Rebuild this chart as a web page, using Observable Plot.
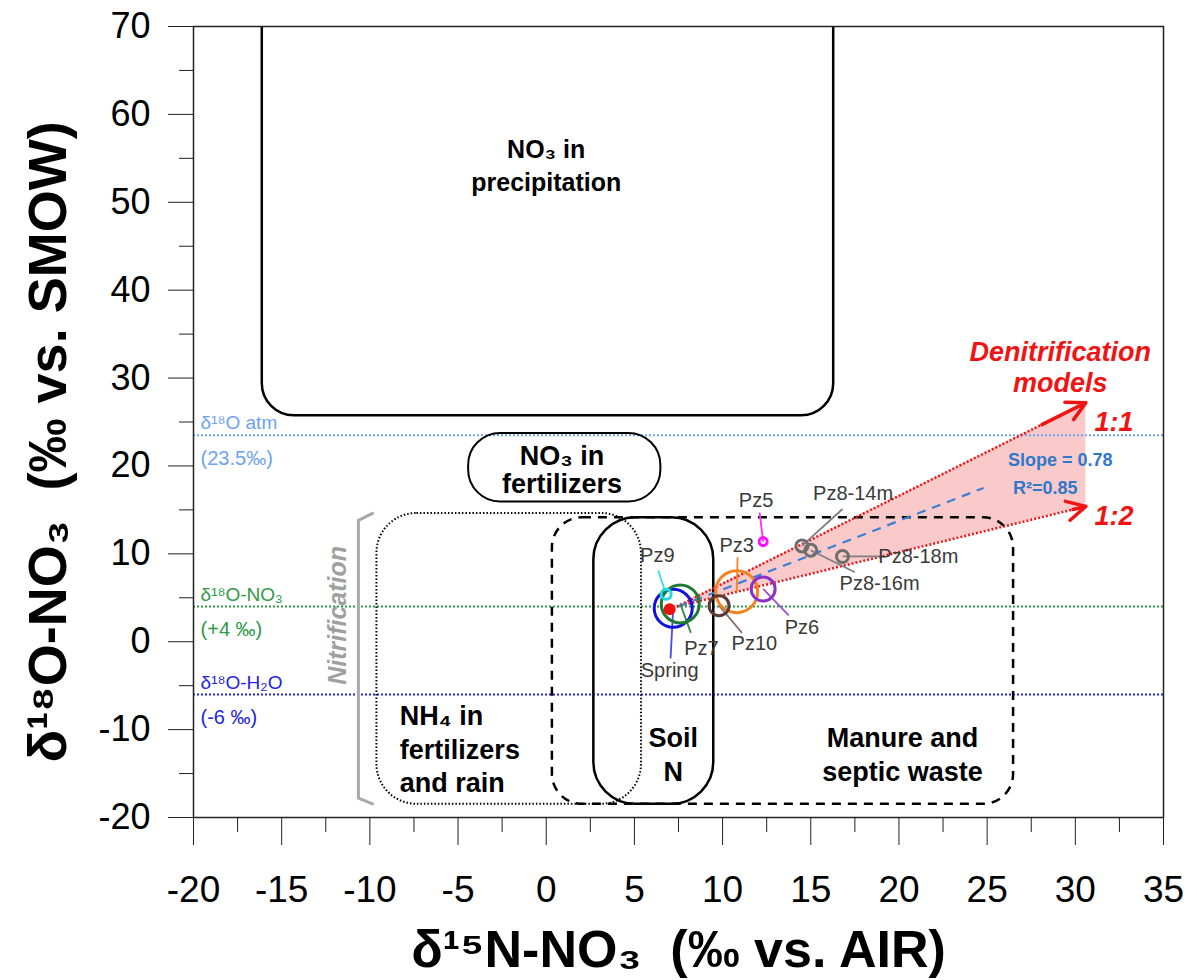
<!DOCTYPE html>
<html><head><meta charset="utf-8">
<script src="https://cdn.jsdelivr.net/npm/d3@7"></script>
<script src="https://cdn.jsdelivr.net/npm/@observablehq/plot@0.6"></script>
<style>body{margin:0;background:#fff}</style>
</head><body><div id="chart"></div>
<script>
// ---- data ----
const sites     = ["Spring","Pz7","Pz9","Pz10","Pz3","Pz6","Pz5","Pz8-14m","Pz8-16m","Pz8-18m"];
const d15N      = [7.2, 7.6, 6.8, 9.8, 10.8, 12.3, 12.3, 14.5, 15.0, 16.8];
const d18O      = [3.8, 4.3, 5.4, 4.1, 5.7, 6.0, 11.4, 10.9, 10.4, 9.7];
const conc      = [38, 38, 10, 20, 42, 24, 8, 12, 12, 12];   // relative circle size
const siteColor = ["#1010e0","#1f7a35","#22d8e0","#5a3a32","#f58220","#8a2fc8","#ff10ff","#6e6e6e","#6e6e6e","#6e6e6e"];
const leaderColor = ["#4a4af0","#2f8a45","#30e0e8","#8a7068","#f58220","#9a50d0","#ff30ff","#808080","#808080","#808080"];
const labelX    = [7.0, 8.8, 6.3, 11.8, 10.8, 14.5, 11.9, 17.4, 18.9, 21.1];
const labelY    = [-3.3, -0.8, 9.8, -0.2, 10.9, 1.6, 16.1, 16.9, 6.6, 9.7];
const leaderX   = [7.05, 8.2, 6.35, 11.1, 10.85, 13.75, 12.1, 16.8, 17.5, 18.95];
const leaderY   = [-1.9, 1.0, 8.1, 1.0, 9.6, 3.0, 14.7, 15.1, 7.9, 9.7];
const springMean = [{x: 7.0, y: 3.7}];

// reference δ18O lines
const refY      = [23.5, 4, -6];
const refColor  = ["#6ea3f2", "#2e9a46", "#2424e0"];
const refLine1  = ["δ¹⁸O atm", "δ¹⁸O-NO₃", "δ¹⁸O-H₂O"];
const refLine2  = ["(23.5‰)", "(+4 ‰)", "(-6 ‰)"];

// source boxes [x1, x2, y1, y2]
const precipBox = [{x1: -16.1, x2: 16.3, y1: 25.7, y2: 90}];
const fertBox   = [{x1: -4.4, x2: 6.5, y1: 15.9, y2: 23.7}];
const nh4Box    = [{x1: -9.6, x2: 5.4, y1: -18.5, y2: 14.6}];
const manureBox = [{x1: 0.35, x2: 26.5, y1: -18.5, y2: 14.1}];
const soilBox   = [{x1: 2.7, x2: 9.5, y1: -18.5, y2: 14.1}];

// denitrification models (start point, 1:1 and 1:2 ends)
const denitStart = {x: 7.4, y: 4.0};
const end11 = {x: 30.6, y: 27.2};
const end12 = {x: 30.6, y: 15.4};
const regStart = {x: 7.5, y: 4.0};
const regEnd = {x: 24.8, y: 17.5};

// nitrification bracket
const bracketX = [-9.85, -10.65, -10.65, -9.85];
const bracketY = [14.6, 13.8, -17.8, -18.45];

const xTicks = d3.range(-20, 36, 5);
const xMinor = d3.range(-17.5, 35, 5);
const yTicks = d3.range(-20, 71, 10);
const yMinor = d3.range(-15, 70, 10);

// ---- derived tables ----
const pts = sites.map((s, i) => ({name: s, x: d15N[i], y: d18O[i], c: conc[i], col: siteColor[i], lc: leaderColor[i],
  lx: labelX[i], ly: labelY[i], ex: leaderX[i], ey: leaderY[i]}));
const refs = refY.map((y, i) => ({y, col: refColor[i], t1: refLine1[i], t2: refLine2[i]}));
const wedge = [{x: denitStart.x, y1: denitStart.y, y2: denitStart.y}, {x: end11.x, y1: end12.y, y2: end11.y}];
const bracket = bracketX.map((x, i) => ({x, y: bracketY[i]}));
const models = [end11, end12].map(e => ({x1: denitStart.x, y1: denitStart.y, x2: e.x, y2: e.y}));

const font = "Liberation Sans, Arial, Helvetica, sans-serif";
const red = "#f01414";
const fmt = d => String(d);

const chart = Plot.plot({
  width: 1197, height: 980,
  marginLeft: 193, marginRight: 34, marginTop: 26, marginBottom: 163,
  style: {fontFamily: font, background: "#fff", color: "#000"},
  x: {domain: [-20, 35]},
  y: {domain: [-20, 70]},
  r: {type: "linear", domain: [0, 40], range: [0, 20]},
  marks: [
    // denitrification wedge
    Plot.areaY(wedge, {x: "x", y1: "y1", y2: "y2", fill: "#f6a6a6", fillOpacity: 0.6}),
    // reference lines
    Plot.ruleY(refs, {y: "y", stroke: "col", strokeWidth: 2, strokeDasharray: "2,2"}),
    Plot.text(refs, {x: -19.6, y: "y", text: "t1", fill: "col", fontSize: 19, textAnchor: "start", dy: -12}),
    Plot.text(refs, {x: -19.6, y: "y", text: "t2", fill: "col", fontSize: 20, textAnchor: "start", dy: 23}),
    // source boxes
    Plot.rect(precipBox, {x1: "x1", x2: "x2", y1: "y1", y2: "y2", rx: 32, stroke: "#000", strokeWidth: 2.5, fill: "none", clip: true}),
    Plot.rect(fertBox, {x1: "x1", x2: "x2", y1: "y1", y2: "y2", rx: 32, stroke: "#000", strokeWidth: 2, fill: "none"}),
    Plot.rect(nh4Box, {x1: "x1", x2: "x2", y1: "y1", y2: "y2", rx: 40, stroke: "#000", strokeWidth: 2, strokeDasharray: "1.5,2", fill: "none"}),
    Plot.rect(manureBox, {x1: "x1", x2: "x2", y1: "y1", y2: "y2", rx: 30, stroke: "#000", strokeWidth: 2.5, strokeDasharray: "9,7", fill: "none"}),
    Plot.rect(soilBox, {x1: "x1", x2: "x2", y1: "y1", y2: "y2", rx: 42, stroke: "#000", strokeWidth: 2.5, fill: "none"}),
    // region labels
    Plot.text(["NO₃ in", "precipitation"], {x: 0, y: (d, i) => [55.9, 52.2][i], text: d => d, fontSize: 25, fontWeight: "bold"}),
    Plot.text(["NO₃ in", "fertilizers"], {x: 0.9, y: (d, i) => [21.1, 17.9][i], text: d => d, fontSize: 27, fontWeight: "bold"}),
    Plot.text(["NH₄ in", "fertilizers", "and rain"], {x: -8.3, y: (d, i) => [-8.5, -12.4, -16.1][i], text: d => d, fontSize: 27, fontWeight: "bold", textAnchor: "start"}),
    Plot.text(["Soil", "N"], {x: 7.2, y: (d, i) => [-11.0, -14.9][i], text: d => d, fontSize: 27, fontWeight: "bold"}),
    Plot.text(["Manure and", "septic waste"], {x: 20.2, y: (d, i) => [-11.0, -14.9][i], text: d => d, fontSize: 27, fontWeight: "bold"}),
    // nitrification bracket
    Plot.line(bracket, {x: "x", y: "y", stroke: "#a8a8a8", strokeWidth: 3}),
    Plot.text(["Nitrification"], {x: -11.8, y: 3.0, text: d => d, rotate: -90, fontSize: 25, fontWeight: "bold", fontStyle: "italic", fill: "#a0a0a0"}),
    // denitrification model lines
    Plot.link(models, {x1: "x1", y1: "y1", x2: "x2", y2: "y2", stroke: red, strokeWidth: 2.5, strokeDasharray: "2,2"}),
    Plot.arrow(models, {x1: "x1", y1: "y1", x2: "x2", y2: "y2", stroke: red, strokeWidth: 3.5, headLength: 9, headAngle: 55, insetStart: 408}),
    Plot.link([{x1: regStart.x, y1: regStart.y, x2: regEnd.x, y2: regEnd.y}], {x1: "x1", y1: "y1", x2: "x2", y2: "y2", stroke: "#3a7fd6", strokeWidth: 2.2, strokeDasharray: "9,7"}),
    Plot.text(["Slope = 0.78"], {x: 29.15, y: 20.6, text: d => d, fill: "#2f78cc", fontSize: 18, fontWeight: "bold"}),
    Plot.text(["R²=0.85"], {x: 28.3, y: 17.5, text: d => d, fill: "#2f78cc", fontSize: 18, fontWeight: "bold"}),
    Plot.text(["Denitrification", "models"], {x: 29.15, y: (d, i) => [32.9, 29.4][i], text: d => d, fill: red, fontSize: 27, fontWeight: "bold", fontStyle: "italic"}),
    Plot.text(["1:1", "1:2"], {x: 32.2, y: (d, i) => [25.0, 14.3][i], text: d => d, fill: red, fontSize: 27, fontWeight: "bold", fontStyle: "italic"}),
    // site leaders, circles, labels
    Plot.link(pts, {x1: "x", y1: "y", x2: "ex", y2: "ey", stroke: "lc", strokeWidth: 1.8}),
    Plot.dot(pts, {x: "x", y: "y", r: "c", stroke: "col", strokeWidth: 3, fill: "none"}),
    Plot.dot(springMean, {x: "x", y: "y", r: 6, fill: "#ee1111", stroke: "none"}),
    Plot.text(pts, {x: "lx", y: "ly", text: "name", fill: "#3a3a3a", fontSize: 20}),
    // axes
    Plot.frame({stroke: "#222", strokeWidth: 1.5}),
    Plot.axisY(yTicks, {anchor: "left", tickSize: 25, tickPadding: 18, fontSize: 36, tickFormat: fmt, label: null, stroke: "#222"}),
    Plot.axisY(yMinor, {anchor: "left", tickSize: 14, tickFormat: () => "", label: null, stroke: "#222"}),
    Plot.axisX(xTicks, {anchor: "bottom", tickSize: 28, tickPadding: 30, fontSize: 37, tickFormat: fmt, label: null, stroke: "#222"}),
    Plot.axisX(xMinor, {anchor: "bottom", tickSize: 15, tickFormat: () => "", label: null, stroke: "#222"}),
    Plot.text(["δ¹⁸O-NO₃\u00a0\u00a0(‰ vs. SMOW)"], {frameAnchor: "left", textAnchor: "middle", lineAnchor: "middle", dx: -145, dy: 20, rotate: -90, text: d => d, fontSize: 54, fontWeight: "bold"}),
    Plot.text(["δ¹⁵N-NO₃\u00a0\u00a0(‰ vs. AIR)"], {frameAnchor: "bottom", textAnchor: "middle", lineAnchor: "middle", dy: 133, text: d => d, fontSize: 52, fontWeight: "bold"})
  ]
});
document.getElementById("chart").appendChild(chart);
</script>
</body></html>
